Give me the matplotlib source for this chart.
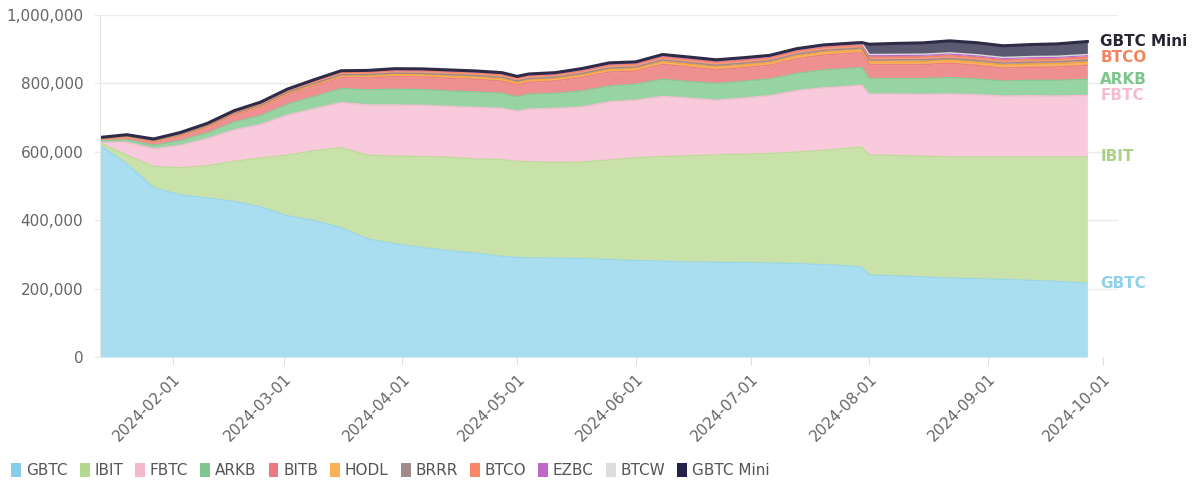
import matplotlib
matplotlib.use("Agg")
import matplotlib.pyplot as plt
import matplotlib.dates as mdates
import matplotlib.ticker as mticker
from matplotlib.patches import Patch
import numpy as np
import pandas as pd

# sample dates (roughly weekly)
dates = pd.to_datetime([
    "2024-01-13", "2024-01-20", "2024-01-27", "2024-02-03", "2024-02-10",
    "2024-02-17", "2024-02-24", "2024-03-02", "2024-03-09", "2024-03-16",
    "2024-03-23", "2024-03-30", "2024-04-06", "2024-04-13", "2024-04-20",
    "2024-04-27", "2024-05-01", "2024-05-04", "2024-05-11", "2024-05-18",
    "2024-05-25", "2024-06-01", "2024-06-08", "2024-06-15", "2024-06-22",
    "2024-06-29", "2024-07-06", "2024-07-13", "2024-07-20", "2024-07-27",
    "2024-07-30", "2024-08-01", "2024-08-08", "2024-08-15", "2024-08-22",
    "2024-08-29", "2024-09-05", "2024-09-12", "2024-09-19", "2024-09-27",
])

# holdings in thousand BTC
gbtc = [619, 565, 495, 474, 465, 455, 439, 413, 399, 378,
        345, 331, 320, 311, 304, 294, 291, 290, 289, 288,
        285, 282, 280, 278, 277, 276, 275, 273, 270, 266,
        263, 240, 237, 234, 231, 229, 227, 224, 221, 216]
ibit = [7, 25, 62, 79, 94, 117, 143, 177, 204, 234,
        245, 256, 266, 273, 275, 283, 281, 281, 280, 282,
        291, 301, 306, 310, 314, 317, 320, 326, 334, 345,
        351, 351, 352, 353, 354, 356, 358, 361, 364, 369]
fbtc = [3, 38, 52, 66, 80, 92, 98, 118, 123, 132,
        147, 150, 150, 149, 151, 150, 147, 154, 158, 161,
        170, 168, 176, 169, 160, 164, 169, 180, 183, 181,
        181, 178, 180, 181, 184, 182, 178, 179, 178, 180]
arkb = [3, 7, 10, 14, 16, 23, 26, 31, 36, 41,
        44, 46, 46, 45, 45, 44, 42, 43, 44, 47,
        46, 47, 50, 48, 49, 49, 49, 50, 52, 52,
        52, 45, 45, 46, 48, 46, 44, 45, 46, 47]
bitb = [4, 8, 10, 13, 16, 20, 24, 28, 30, 32,
        35, 37, 37, 37, 37, 36, 35, 35, 36, 40,
        41, 38, 44, 43, 40, 40, 40, 43, 44, 44,
        43, 41, 41, 41, 42, 40, 38, 38, 39, 41]
hodl = [1, 1.5, 2, 2.5, 3, 3.5, 4, 4.5, 5, 5.5,
        6, 6.5, 6.5, 7, 7, 7, 7, 7, 7, 7,
        7.5, 7.5, 8, 8, 8, 8, 8, 8.5, 8.5, 8.5,
        8.5, 8.5, 9, 9, 9, 9, 9, 9.5, 9.5, 9.5]
brrr = [1.5, 1.5, 1.5, 2, 2, 2, 2.5, 2.5, 3, 3,
        3.5, 3.5, 3.5, 4, 4, 4, 4, 4, 4, 4,
        4.5, 4.5, 4.5, 5, 5, 5, 5, 5, 5, 5,
        5, 5, 5, 5, 5, 5.5, 5.5, 5.5, 5.5, 5.5]
btco = [1.5, 2, 2.5, 3, 3.5, 4, 4.5, 5, 5.5, 6,
        6.5, 6.5, 7, 7, 7, 7, 7, 7, 7, 7,
        7.5, 7.5, 8, 8, 8, 8, 8, 8, 8, 8,
        8, 8, 8, 8, 8, 8, 8, 8, 8, 8]
ezbc = [1.5, 1.5, 2, 2, 2.5, 2.5, 3, 3, 3.5, 3.5,
        4, 4, 4, 4, 4, 4, 4, 4, 4, 4.5,
        4.5, 4.5, 5, 5, 5, 5, 5, 5, 5, 5,
        5, 5, 5, 5.5, 5.5, 5.5, 5.5, 5.5, 5.5, 5.5]
btcw = [0.5, 0.5, 0.5, 1, 1, 1, 1.5, 1.5, 2, 2,
        2, 2.5, 2.5, 2.5, 2.5, 2.5, 2.5, 2.5, 2.5, 3,
        3, 3, 3, 3, 3, 3, 3, 3, 3, 3,
        3, 3, 3, 3, 3, 3, 3, 3, 3, 3]
gbtc_mini = [0] * 31 + [30, 32, 33, 35, 35, 34, 35, 36, 38]

names = ["GBTC", "IBIT", "FBTC", "ARKB", "BITB", "HODL", "BRRR", "BTCO", "EZBC", "BTCW", "GBTC Mini"]
values = [gbtc, ibit, fbtc, arkb, bitb, hodl, brrr, btco, ezbc, btcw, gbtc_mini]
fill_colors = ["#a9ddf0", "#c8e2a9", "#f8cadb", "#97d4a3", "#ee9092", "#f9b35c",
               "#b09a9a", "#f59a7c", "#c77ccd", "#e2e2e2", "#5c5a72"]
line_colors = ["#9ad6ec", "#bcdc98", "#f5bdd1", "#86cc95", "#ea8084", "#f9a43e",
               "#a08a8a", "#f6845e", "#bf66c6", "#d8d8d8", "#2e2b47"]
legend_colors = ["#86cfea", "#b4d88e", "#f5b9cf", "#7fc78f", "#ea7a80", "#fbb15a",
                 "#a08a8a", "#f7896a", "#bf66c6", "#dcdcdc", "#24214a"]
label_colors = {"GBTC": "#8fd1ea", "IBIT": "#a9d283", "FBTC": "#f5bcd0",
                "ARKB": "#7cc68c", "BTCO": "#f3845f", "GBTC Mini": "#262633"}

fig = plt.figure(figsize=(12, 4.92), dpi=100)
ax = fig.add_axes([0.08333, 0.27439, 0.84833, 0.69512])

cum = np.zeros(len(dates))
tops = {}
for name, vals, fc, lc in zip(names, values, fill_colors, line_colors):
    top = cum + np.array(vals, dtype=float) * 1000
    ax.fill_between(dates, cum, top, color=fc, lw=0)
    ax.plot(dates, top, color=lc, lw=2.2 if name == "GBTC Mini" else 1.0)
    tops[name] = top[-1]
    cum = top

# labels at the right end of the stack
for name, col in label_colors.items():
    ax.annotate(name, xy=(dates[-1], tops[name]), xytext=(13, 0),
                textcoords="offset pixels", va="center", ha="left",
                color=col, fontsize=11, fontweight="bold", annotation_clip=False)

ax.set_xlim(dates[0], pd.Timestamp("2024-10-05"))
ax.set_ylim(0, 1000000)
ax.yaxis.set_major_locator(mticker.MultipleLocator(200000))
ax.yaxis.set_major_formatter(mticker.FuncFormatter(lambda v, p: f"{v:,.0f}"))
ax.xaxis.set_major_locator(mdates.MonthLocator(bymonthday=1))
ax.xaxis.set_major_formatter(mdates.DateFormatter("%Y-%m-%d"))
for lab in ax.get_xticklabels():
    lab.set_rotation(45)
    lab.set_ha("right")
    lab.set_rotation_mode("anchor")

ax.grid(axis="y", color="#ebebeb", lw=1)
ax.set_axisbelow(True)
for s in ["top", "right", "bottom"]:
    ax.spines[s].set_visible(False)
ax.spines["left"].set_color("#e6e6e6")
ax.tick_params(axis="x", colors="#e0e0e0", labelcolor="#666666", labelsize=11, length=6, pad=4)
ax.tick_params(axis="y", colors="#ebebeb", labelcolor="#666666", labelsize=11, length=4, pad=8)

handles = [Patch(facecolor=c, edgecolor="none") for c in legend_colors]
fig.legend(handles, names, loc="lower left", bbox_to_anchor=(-0.002, 0.0), ncol=11,
           frameon=False, fontsize=11, handlelength=0.65, handleheight=1.1,
           handletextpad=0.3, columnspacing=0.8, labelcolor="#555555")

fig.savefig("out.png", dpi=100)
